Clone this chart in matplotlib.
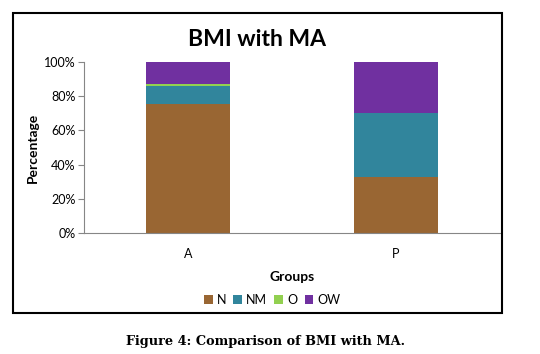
import matplotlib
matplotlib.use("Agg")
import matplotlib.pyplot as plt
from matplotlib.patches import Rectangle

groups = ["A", "P"]
series = ["N", "NM", "O", "OW"]
N = [75.6, 33.0]
NM = [10.5, 37.0]
O = [1.3, 0.0]
OW = [12.6, 30.0]
colors = ["#996633", "#31859C", "#92D050", "#7030A0"]
yticks = [0, 20, 40, 60, 80, 100]

fig = plt.figure(figsize=(5.4, 3.54), dpi=100)
W, H = 540, 354
ax = fig.add_axes([84 / W, 1 - 233 / H, (500 - 84) / W, (233 - 62) / H])

x = list(range(len(groups)))
bottom = [0.0] * len(groups)
for name, vals, c in zip(series, [N, NM, O, OW], colors):
    ax.bar(x, vals, width=0.4, bottom=bottom, color=c, label=name)
    bottom = [b + v for b, v in zip(bottom, vals)]

ax.set_xlim(-0.5, 1.5)
ax.set_ylim(0, 100)
ax.set_yticks(yticks)
ax.set_yticklabels([f"{t}%" for t in yticks])
ax.set_xticks(x)
ax.set_xticklabels(groups)
for s in ["top", "right"]:
    ax.spines[s].set_visible(False)
for s in ["left", "bottom"]:
    ax.spines[s].set_color("#868686")
ax.tick_params(axis="y", length=4, color="#868686", labelsize=9, pad=2)
ax.tick_params(axis="x", length=0, labelsize=9, pad=11)
font = "Lato"
for lab in ax.get_xticklabels() + ax.get_yticklabels():
    lab.set_fontfamily(font)

ax.set_ylabel("Percentage", fontsize=10, fontweight="bold", fontfamily=font, labelpad=4)
ax.set_xlabel("Groups", fontsize=10, fontweight="bold", fontfamily=font, labelpad=8)

fig.text(257 / W, 1 - 40 / H, "BMI with MA", ha="center", va="center",
         fontsize=16.5, fontweight="bold", fontfamily=font)

leg = fig.legend(loc="center", bbox_to_anchor=(272 / W, 1 - 300 / H), ncol=4,
                 frameon=False, prop={"family": font, "size": 9},
                 handlelength=0.7, handleheight=0.7, handletextpad=0.3,
                 columnspacing=0.6)

fig.patches.append(Rectangle((13 / W, 1 - 313 / H), (502 - 13) / W, (313 - 13) / H,
                             transform=fig.transFigure, fill=False,
                             edgecolor="black", linewidth=1.5))

fig.text(265 / W, 1 - 342 / H, "Figure 4: Comparison of BMI with MA.", ha="center",
         va="center", fontsize=9.3, fontweight="bold", fontfamily="DejaVu Serif")

fig.savefig("out.png", dpi=100)
